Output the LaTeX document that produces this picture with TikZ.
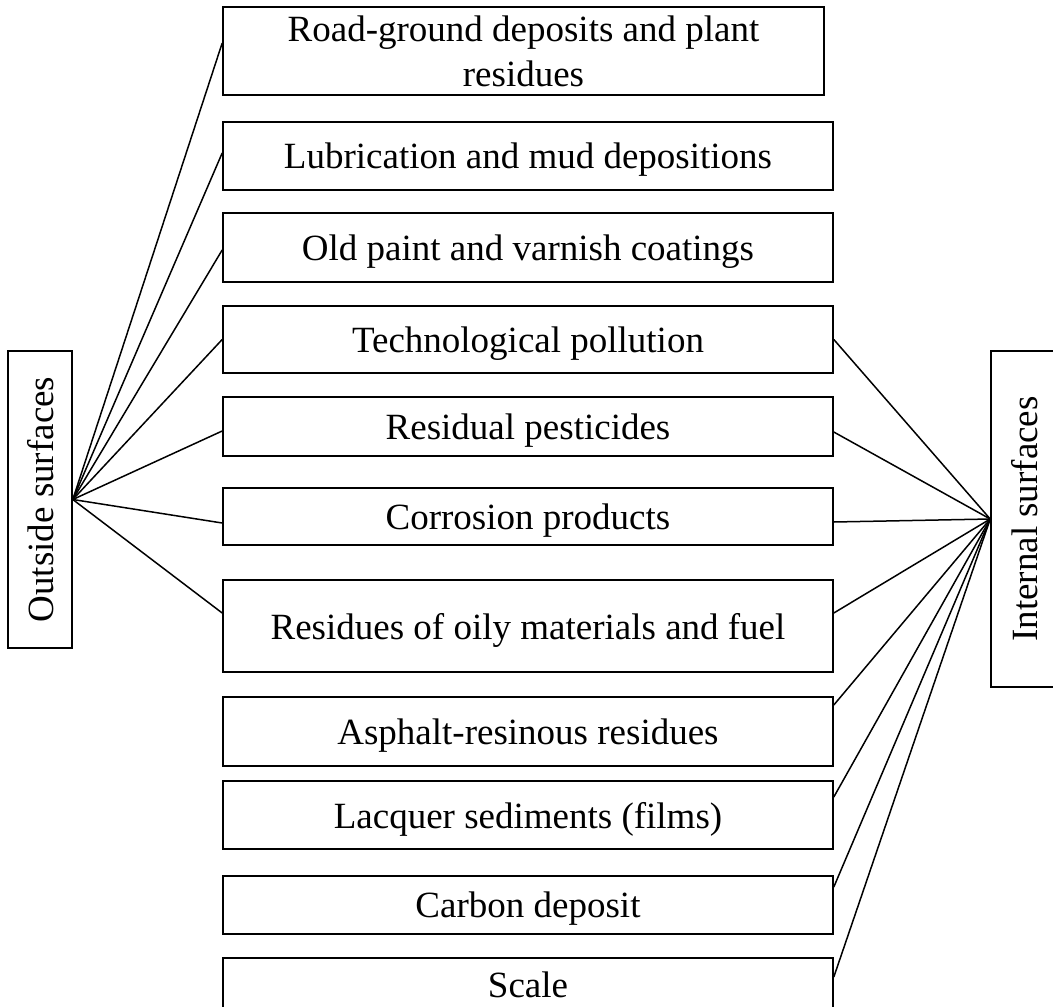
\documentclass[tikz,border=0pt]{standalone}
\usepackage{fontspec}
\setmainfont{Liberation Serif}
\begin{document}
\begin{tikzpicture}[x=1pt,y=-1pt,
  box/.style={draw, line width=1.6pt, inner sep=0pt, align=center, text depth=0pt,
    font=\fontsize{37}{45}\selectfont},
  side/.style={draw, line width=1.6pt, inner sep=0pt, rotate=90, text depth=0pt,
    font=\fontsize{37}{45}\selectfont},
  link/.style={line width=1.5pt}]
\useasboundingbox (0,0) rectangle (1053,1007);
\clip (0,0) rectangle (1053,1007);
% middle boxes
\node[box, minimum width=601pt, minimum height=88pt] (b1) at (523.5,51) {Road-ground deposits and plant\\residues};
\node[box, minimum width=610pt, minimum height=68pt] (b2) at (528,156) {Lubrication and mud depositions};
\node[box, minimum width=610pt, minimum height=69pt] (b3) at (528,247.5) {Old paint and varnish coatings};
\node[box, minimum width=610pt, minimum height=67pt] (b4) at (528,339.5) {Technological pollution};
\node[box, minimum width=610pt, minimum height=59pt] (b5) at (528,426.5) {Residual pesticides};
\node[box, minimum width=610pt, minimum height=57pt] (b6) at (528,516.5) {Corrosion products};
\node[box, minimum width=610pt, minimum height=92pt] (b7) at (528,626) {Residues of oily materials and fuel};
\node[box, minimum width=610pt, minimum height=69pt] (b8) at (528,731.5) {Asphalt-resinous residues};
\node[box, minimum width=610pt, minimum height=68pt] (b9) at (528,815) {Lacquer sediments (films)};
\node[box, minimum width=610pt, minimum height=58pt] (b10) at (528,905) {Carbon deposit};
\node[box, minimum width=610pt, minimum height=54pt] (b11) at (528,985) {Scale};
% side boxes
\node[side, minimum width=297pt, minimum height=64pt] (out) at (40,499.5) {Outside surfaces};
\node[side, minimum width=336pt, minimum height=66pt] (int) at (1024,519) {Internal surfaces};
% connectors left
\draw[link] (out.south) -- ([yshift=8pt]b1.west);
\draw[link] (out.south) -- ([yshift=3pt]b2.west);
\draw[link] (out.south) -- ([yshift=-2.5pt]b3.west);
\draw[link] (out.south) -- (b4.west);
\draw[link] (out.south) -- ([yshift=-4.5pt]b5.west);
\draw[link] (out.south) -- ([yshift=-6.5pt]b6.west);
\draw[link] (out.south) -- ([yshift=13pt]b7.west);
% connectors right
\draw[link] (int.north) -- (b4.east);
\draw[link] (int.north) -- ([yshift=-5.5pt]b5.east);
\draw[link] (int.north) -- ([yshift=-5.5pt]b6.east);
\draw[link] (int.north) -- ([yshift=13pt]b7.east);
\draw[link] (int.north) -- ([yshift=26.5pt]b8.east);
\draw[link] (int.north) -- ([yshift=18pt]b9.east);
\draw[link] (int.north) -- ([yshift=18pt]b10.east);
\draw[link] (int.north) -- ([yshift=8pt]b11.east);
\end{tikzpicture}
\end{document}
